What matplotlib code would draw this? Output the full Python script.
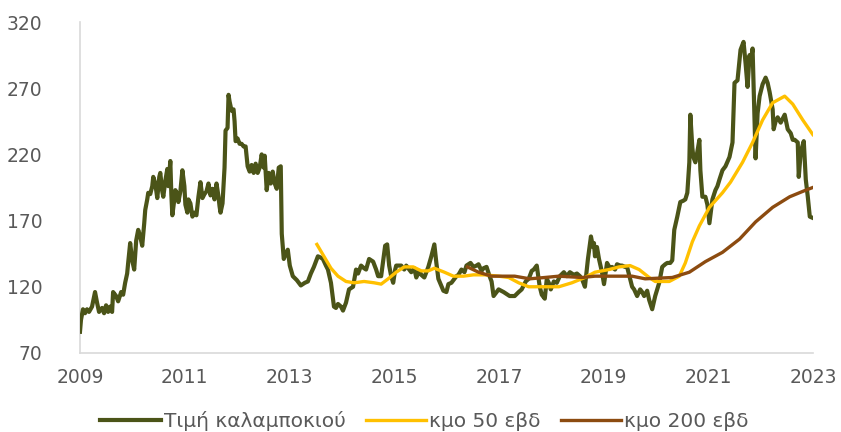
import matplotlib
matplotlib.use("Agg")
import matplotlib.pyplot as plt
import numpy as np

# weekly data, x = weeks since start of 2009
price_wk = [0, 1, 3, 5, 7, 9, 12, 15, 17, 19, 22, 24, 26, 28, 30, 32, 33, 36, 38, 41,
            43, 45, 47, 48, 50, 52, 54, 56, 58, 60, 62, 64, 65, 67, 68, 70, 72, 73, 75, 77,
            79, 80, 82, 83, 85, 87, 88, 90, 91, 92, 94, 95, 97, 98, 100, 102, 104, 105, 107, 108,
            110, 112, 114, 116, 118, 120, 122, 124, 126, 128, 130, 132, 134, 136, 138, 139, 140, 142, 144, 145,
            147, 148, 149, 151, 153, 154, 155, 157, 159, 161, 163, 165, 167, 169, 171, 173, 175, 177, 179, 181,
            183, 184, 186, 188, 190, 192, 194, 196, 198, 200, 201, 203, 205, 207, 209, 212, 216, 220, 224, 227,
            230, 233, 237, 240, 242, 245, 247, 250, 253, 255, 257, 260, 262, 265, 268, 272, 275, 277, 280, 283,
            285, 288, 292, 295, 297, 300, 303, 304, 306, 308, 310, 312, 314, 315, 320, 323, 325, 328, 330, 333,
            335, 338, 340, 343, 347, 350, 353, 355, 357, 362, 365, 367, 370, 375, 377, 380, 383, 385, 389, 392,
            395, 397, 400, 402, 405, 408, 410, 412, 417, 422, 428, 433, 437, 440, 444, 447, 450, 452, 455, 458,
            460, 463, 465, 467, 469, 472, 475, 478, 482, 485, 488, 492, 495, 498, 500, 503, 505, 506, 509, 511,
            512, 513, 515, 517, 520, 522, 524, 525, 528, 530, 533, 535, 538, 540, 543, 545, 548, 550, 552, 555,
            558, 560, 562, 565, 567, 570, 573, 575, 577, 580, 583, 585, 588, 590, 592, 595, 598, 601, 603, 605,
            607, 608, 610, 611, 613, 615, 617, 618, 620, 623, 625, 627, 630, 633, 635, 637, 640, 643, 647, 650,
            652, 655, 658, 661, 663, 665, 667, 668, 670, 673, 675, 677, 680, 683, 685, 687, 690, 691, 693, 695,
            698, 702, 705, 708, 710, 712, 715, 716, 718, 721, 723, 725, 727, 730]
price = [86, 95, 103, 100, 103, 101, 105, 116, 108, 101, 104, 100, 106, 101, 105, 101, 116, 113, 109, 116,
         114, 123, 130, 138, 153, 140, 133, 155, 163, 158, 151, 168, 178, 186, 191, 190, 196, 203, 198, 187,
         203, 206, 192, 188, 200, 209, 196, 215, 190, 174, 186, 193, 190, 184, 192, 208, 196, 182, 176, 186,
         183, 173, 176, 174, 188, 199, 187, 190, 192, 198, 189, 194, 186, 198, 188, 181, 176, 183, 210, 238,
         240, 265, 260, 253, 254, 245, 230, 232, 228, 228, 226, 226, 211, 207, 212, 206, 213, 206, 210, 220,
         210, 219, 193, 206, 198, 207, 198, 194, 210, 211, 160, 141, 145, 148, 136, 128, 125, 121, 123, 124,
         130, 135, 143, 142, 141, 136, 133, 123, 105, 104, 107, 105, 102, 108, 118, 120, 133, 130, 136, 134,
         133, 141, 139, 133, 128, 128, 145, 151, 152, 136, 128, 123, 133, 136, 136, 133, 136, 133, 131, 134,
         127, 132, 129, 127, 135, 143, 152, 138, 126, 117, 116, 122, 123, 128, 129, 133, 131, 136, 138, 135,
         136, 137, 132, 134, 135, 128, 124, 113, 118, 116, 113, 113, 116, 118, 124, 126, 132, 133, 136, 120,
         114, 111, 126, 123, 118, 124, 123, 128, 131, 128, 131, 129, 130, 128, 126, 120, 134, 141, 158, 150,
         153, 143, 150, 141, 131, 122, 133, 138, 134, 135, 133, 137, 136, 136, 135, 135, 126, 120, 118, 113,
         118, 116, 113, 117, 110, 103, 113, 118, 123, 135, 137, 138, 138, 140, 163, 173, 184, 185, 186, 191,
         214, 250, 225, 218, 214, 222, 231, 208, 188, 188, 182, 168, 186, 193, 196, 201, 208, 211, 218, 229,
         274, 276, 299, 305, 289, 271, 295, 289, 300, 217, 251, 264, 273, 278, 274, 267, 254, 239, 245, 248,
         244, 250, 239, 236, 231, 231, 229, 203, 222, 230, 201, 188, 173, 172]

ma50_wk = [236, 243, 250, 257, 265, 273, 283, 293, 300, 307, 315, 323, 332, 340, 347, 353, 363, 372, 382, 392,
           403, 417, 427, 437, 447, 457, 467, 477, 490, 503, 513, 527, 537, 548, 557, 567, 573, 587, 597, 603,
           610, 617, 627, 640, 648, 660, 670, 680, 690, 702, 710, 720, 730]
ma50 = [152, 143, 134, 128, 124, 123, 124, 123, 122, 126, 131, 135, 135, 132, 132, 134, 131, 128, 128, 129,
        129, 128, 127, 123, 120, 120, 120, 120, 123, 127, 131, 133, 135, 136, 133, 127, 124, 124, 128, 138,
        154, 166, 180, 191, 199, 214, 229, 246, 259, 264, 258, 246, 235]

ma200_wk = [386, 397, 410, 433, 448, 463, 477, 500, 513, 550, 563, 590, 607, 623, 640, 657, 673, 690, 707, 723, 730]
ma200 = [135, 131, 128, 128, 126, 127, 128, 127, 128, 128, 126, 127, 131, 139, 146, 156, 169, 180, 188, 193, 195]

labels = ["Τιμή καλαμποκιού", "κμο 50 εβδ", "κμο 200 εβδ"]
colors = ["#4B5418", "#FFC000", "#8C4B10"]
years = list(range(2009, 2024, 2))


def to_year(w):
    return 2009 + np.asarray(w) / 52.18


fig = plt.figure(figsize=(8.41, 4.32), dpi=100)
ax = fig.add_axes([0.0951, 0.183, 0.872, 0.766])

ax.plot(to_year(price_wk), price, color=colors[0], lw=3.0, label=labels[0],
        solid_joinstyle="round", zorder=3)
ax.plot(to_year(ma50_wk), ma50, color=colors[1], lw=2.4, label=labels[1], zorder=4)
ax.plot(to_year(ma200_wk), ma200, color=colors[2], lw=2.4, label=labels[2], zorder=4)

ax.set_xlim(2009, 2023)
ax.set_ylim(70, 320)
ax.set_xticks(years)
ax.set_yticks(range(70, 321, 50))
ax.tick_params(length=0, labelsize=13.5, colors="#595959")
ax.tick_params(axis="y", pad=27)
ax.tick_params(axis="x", pad=11)
for s in ["top", "right"]:
    ax.spines[s].set_visible(False)
for s in ["left", "bottom"]:
    ax.spines[s].set_color("#D9D9D9")
    ax.spines[s].set_linewidth(1.2)

leg = ax.legend(loc="center", bbox_to_anchor=(0.47, -0.205), ncol=3, frameon=False,
                fontsize=14.5, handlelength=3.0, handletextpad=0.15,
                columnspacing=1.0, borderpad=0.2)
for t in leg.get_texts():
    t.set_color("#595959")

fig.savefig("out.png", dpi=100, facecolor="white")
